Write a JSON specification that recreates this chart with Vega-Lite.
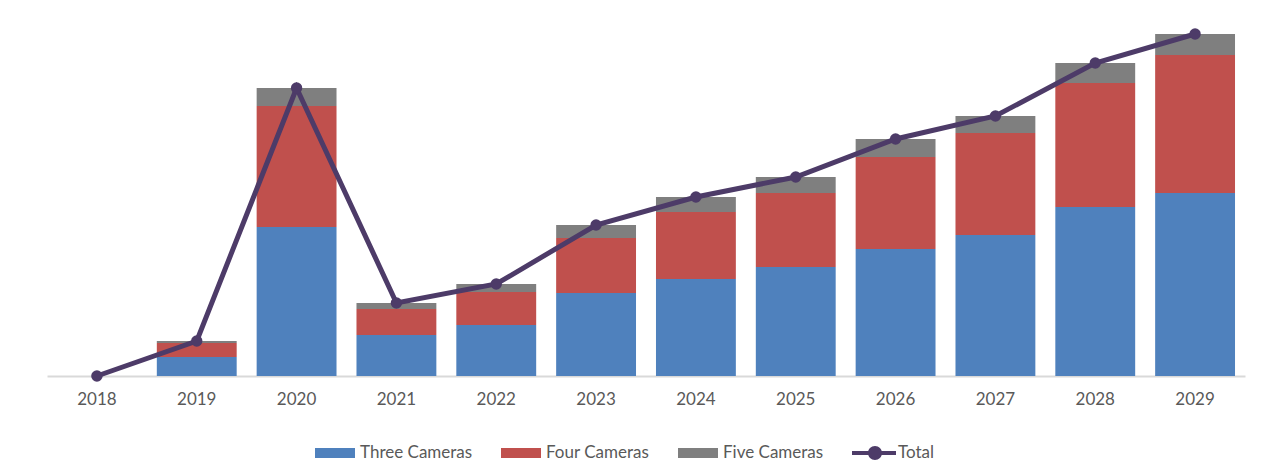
{
  "$schema": "https://vega.github.io/schema/vega-lite/v6.json",
  "width": 1198,
  "height": 360,
  "autosize": {"type": "none"},
  "padding": {"left": 47, "top": 16, "right": 30, "bottom": 97},
  "background": "white",
  "config": {"view": {"stroke": null}, "font": "Lato"},
  "datasets": {
    "bars": [
      {"year": "2018", "series": "Three Cameras", "order": 1, "value": 0},
      {"year": "2018", "series": "Four Cameras", "order": 2, "value": 0},
      {"year": "2018", "series": "Five Cameras", "order": 3, "value": 0},
      {"year": "2019", "series": "Three Cameras", "order": 1, "value": 19},
      {"year": "2019", "series": "Four Cameras", "order": 2, "value": 14},
      {"year": "2019", "series": "Five Cameras", "order": 3, "value": 2},
      {"year": "2020", "series": "Three Cameras", "order": 1, "value": 149},
      {"year": "2020", "series": "Four Cameras", "order": 2, "value": 121},
      {"year": "2020", "series": "Five Cameras", "order": 3, "value": 18},
      {"year": "2021", "series": "Three Cameras", "order": 1, "value": 41},
      {"year": "2021", "series": "Four Cameras", "order": 2, "value": 26},
      {"year": "2021", "series": "Five Cameras", "order": 3, "value": 6},
      {"year": "2022", "series": "Three Cameras", "order": 1, "value": 51},
      {"year": "2022", "series": "Four Cameras", "order": 2, "value": 33},
      {"year": "2022", "series": "Five Cameras", "order": 3, "value": 8},
      {"year": "2023", "series": "Three Cameras", "order": 1, "value": 83},
      {"year": "2023", "series": "Four Cameras", "order": 2, "value": 55},
      {"year": "2023", "series": "Five Cameras", "order": 3, "value": 13},
      {"year": "2024", "series": "Three Cameras", "order": 1, "value": 97},
      {"year": "2024", "series": "Four Cameras", "order": 2, "value": 67},
      {"year": "2024", "series": "Five Cameras", "order": 3, "value": 15},
      {"year": "2025", "series": "Three Cameras", "order": 1, "value": 109},
      {"year": "2025", "series": "Four Cameras", "order": 2, "value": 74},
      {"year": "2025", "series": "Five Cameras", "order": 3, "value": 16},
      {"year": "2026", "series": "Three Cameras", "order": 1, "value": 127},
      {"year": "2026", "series": "Four Cameras", "order": 2, "value": 92},
      {"year": "2026", "series": "Five Cameras", "order": 3, "value": 18},
      {"year": "2027", "series": "Three Cameras", "order": 1, "value": 141},
      {"year": "2027", "series": "Four Cameras", "order": 2, "value": 102},
      {"year": "2027", "series": "Five Cameras", "order": 3, "value": 17},
      {"year": "2028", "series": "Three Cameras", "order": 1, "value": 169},
      {"year": "2028", "series": "Four Cameras", "order": 2, "value": 124},
      {"year": "2028", "series": "Five Cameras", "order": 3, "value": 20},
      {"year": "2029", "series": "Three Cameras", "order": 1, "value": 183},
      {"year": "2029", "series": "Four Cameras", "order": 2, "value": 138},
      {"year": "2029", "series": "Five Cameras", "order": 3, "value": 21}
    ],
    "totals": [
      {"year": "2018", "total": 0},
      {"year": "2019", "total": 35},
      {"year": "2020", "total": 288},
      {"year": "2021", "total": 73},
      {"year": "2022", "total": 92},
      {"year": "2023", "total": 151},
      {"year": "2024", "total": 179},
      {"year": "2025", "total": 199},
      {"year": "2026", "total": 237},
      {"year": "2027", "total": 260},
      {"year": "2028", "total": 313},
      {"year": "2029", "total": 342}
    ]
  },
  "encoding": {
    "x": {
      "field": "year",
      "type": "ordinal",
      "scale": {"paddingInner": 0.2, "paddingOuter": 0.1},
      "axis": {
        "title": null,
        "labelAngle": 0,
        "labelFontSize": 17,
        "labelColor": "#595959",
        "labelPadding": 15,
        "ticks": false,
        "domainColor": "#d9d9d9",
        "domainWidth": 2,
        "grid": false
      }
    }
  },
  "layer": [
    {
      "data": {"name": "bars"},
      "mark": {"type": "bar"},
      "encoding": {
        "y": {
          "field": "value",
          "type": "quantitative",
          "stack": "zero",
          "scale": {"domain": [0, 360], "nice": false},
          "axis": null
        },
        "order": {"field": "order", "type": "quantitative"},
        "color": {
          "field": "series",
          "type": "nominal",
          "scale": {
            "domain": ["Three Cameras", "Four Cameras", "Five Cameras", "Total"],
            "range": ["#4F81BD", "#C0504D", "#7F7F7F", "#4D3B68"]
          },
          "legend": {
            "title": null,
            "orient": "none",
            "legendX": 268,
            "legendY": 417,
            "direction": "horizontal",
            "labelFontSize": 17,
            "labelColor": "#595959",
            "labelOffset": 5,
            "columnPadding": 28,
            "symbolSize": 1600,
            "symbolStrokeWidth": 0,
            "symbolOpacity": 1,
            "encode": {
              "symbols": {
                "update": {
                  "shape": {"signal": "datum.value === 'Total' ? 'M-1.05,-0.1 H1.15 V0.1 H-1.05 Z M-0.25,0 A0.35,0.35 0 1,1 0.45,0 A0.35,0.35 0 1,1 -0.25,0 Z' : 'M-1,-0.25 H1 V0.25 H-1 Z'"},
                  "fill": {"signal": "scale('color', datum.value)"},
                  "strokeWidth": {"value": 0},
                  "opacity": {"value": 1}
                }
              }
            }
          }
        }
      }
    },
    {
      "data": {"name": "totals"},
      "mark": {"type": "line", "strokeWidth": 5, "point": {"filled": true, "size": 130}},
      "encoding": {
        "y": {"field": "total", "type": "quantitative"},
        "color": {"datum": "Total"}
      }
    }
  ]
}
